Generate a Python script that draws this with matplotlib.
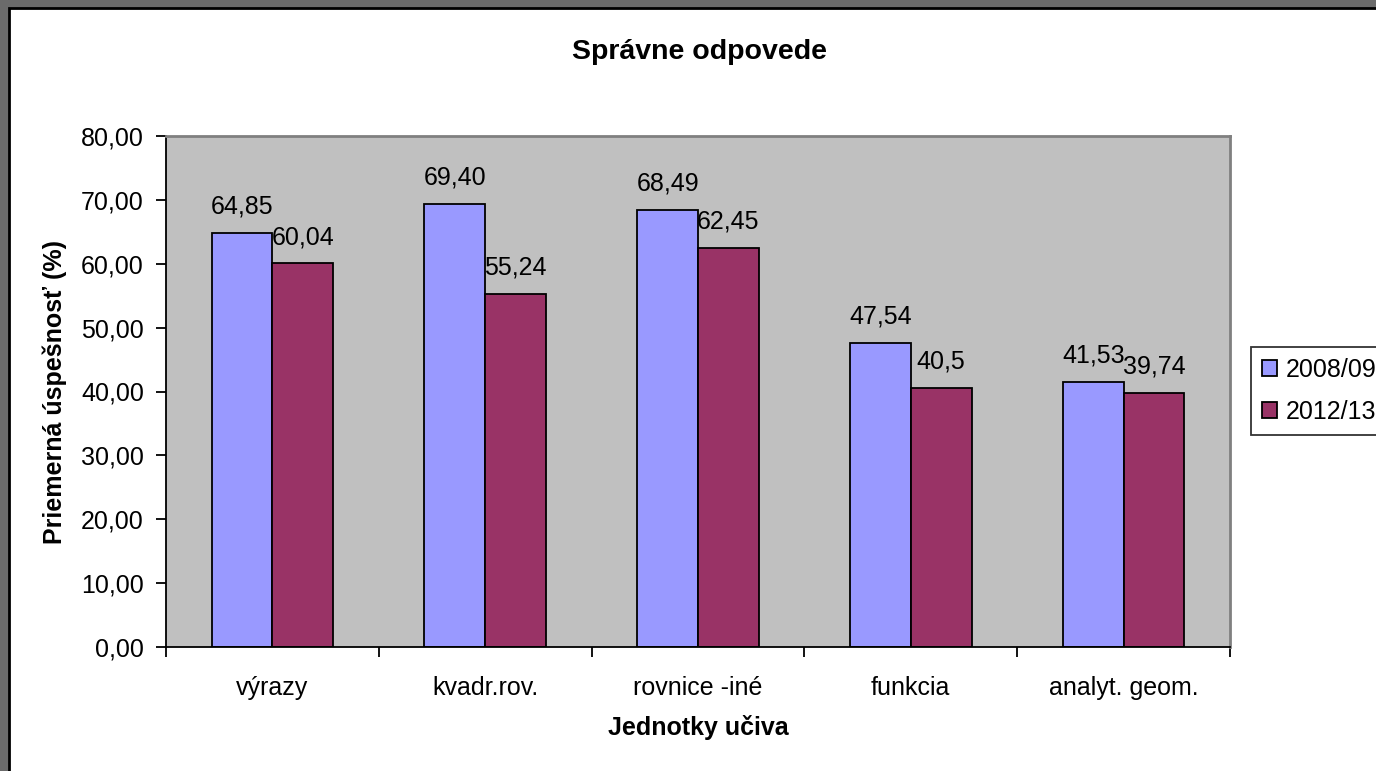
import matplotlib
matplotlib.use("Agg")
import matplotlib.pyplot as plt
from matplotlib.patches import Rectangle
import numpy as np

# data
categories = ["výrazy", "kvadr.rov.", "rovnice -iné", "funkcia", "analyt. geom."]
series_names = ["2008/09", "2012/13"]
values_0809 = [64.85, 69.40, 68.49, 47.54, 41.53]
values_1213 = [60.04, 55.24, 62.45, 40.5, 39.74]
labels_0809 = ["64,85", "69,40", "68,49", "47,54", "41,53"]
labels_1213 = ["60,04", "55,24", "62,45", "40,5", "39,74"]
yticks = [0, 10, 20, 30, 40, 50, 60, 70, 80]

plt.rcParams['font.family'] = ['Liberation Sans', 'DejaVu Sans']
FS = 18

W, H = 1376, 771
fig = plt.figure(figsize=(W / 100, H / 100), dpi=100, facecolor="#6b6b6b")

# white chart area with black frame (Excel screenshot look)
fig.patches.append(Rectangle((9 / W, -0.05), 1.1, 1 - 8 / H + 0.05, transform=fig.transFigure,
                             facecolor="white", edgecolor="black", linewidth=2, zorder=-10))

ax = fig.add_axes([166 / W, (H - 647) / H, (1230 - 166) / W, (647 - 136) / H])
ax.set_facecolor("#c0c0c0")

x = np.arange(len(categories))
bw = 1 / 3.5
ax.bar(x - bw / 2, values_0809, bw, color="#9999ff", edgecolor="black", linewidth=1.3,
       label=series_names[0], zorder=2)
ax.bar(x + bw / 2, values_1213, bw, color="#993366", edgecolor="black", linewidth=1.3,
       label=series_names[1], zorder=2)

for xi, v, s in zip(x - bw / 2, values_0809, labels_0809):
    ax.annotate(s, (xi, v), xytext=(0, 14), textcoords="offset points",
                ha="center", va="baseline", fontsize=FS, zorder=3)
for xi, v, s in zip(x + bw / 2, values_1213, labels_1213):
    ax.annotate(s, (xi, v), xytext=(0, 14), textcoords="offset points",
                ha="center", va="baseline", fontsize=FS, zorder=3)

ax.set_xlim(-0.5, len(categories) - 0.5)
ax.set_ylim(0, 80)
ax.set_yticks(yticks)
ax.set_yticklabels([f"{t:.2f}".replace(".", ",") for t in yticks], fontsize=FS)
ax.set_xticks(x)
ax.set_xticklabels(categories, fontsize=FS)
ax.set_xticks(np.arange(len(categories) + 1) - 0.5, minor=True)
ax.tick_params(axis="x", which="major", length=0, pad=21)
ax.tick_params(axis="x", which="minor", length=7, width=1.3, direction="out")
ax.tick_params(axis="y", length=7, width=1.3, direction="out", pad=9)

for side in ["top", "right"]:
    ax.spines[side].set_color("#808080")
    ax.spines[side].set_linewidth(2)
for side in ["left", "bottom"]:
    ax.spines[side].set_color("black")
    ax.spines[side].set_linewidth(1.3)

ax.set_ylabel("Priemerná úspešnosť (%)", fontsize=FS, fontweight="bold", labelpad=10)
ax.set_xlabel("Jednotky učiva", fontsize=FS, fontweight="bold", labelpad=11)
fig.text(699 / W, 1 - 52 / H, "Správne odpovede", ha="center", va="center",
         fontsize=20.5, fontweight="bold")

leg = fig.legend(loc="upper left", bbox_to_anchor=(1251 / W, 1 - 347 / H), fontsize=FS,
                 frameon=True, fancybox=False, edgecolor="black", handlelength=0.6,
                 handleheight=0.6, handletextpad=0.35, borderpad=0.45, labelspacing=0.7,
                 borderaxespad=0)
leg.get_frame().set_linewidth(1.3)

fig.savefig("out.png", dpi=100, facecolor=fig.get_facecolor())
